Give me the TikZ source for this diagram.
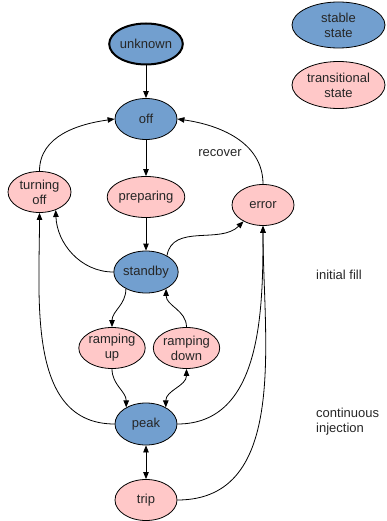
\documentclass[tikz,border=0pt]{standalone}
\usepackage{fontspec}
\setmainfont{Liberation Sans}
\usetikzlibrary{shapes.geometric,arrows.meta}
\definecolor{stblue}{HTML}{729FCF}
\definecolor{trpink}{HTML}{FFC8C8}
\tikzset{
  st/.style={ellipse,draw=black,line width=0.8pt,fill=stblue,inner sep=0pt,
    minimum width=62pt,minimum height=41pt,font=\fontsize{13}{15}\selectfont,
    text=black!85,align=center},
  tr/.style={st,fill=trpink},
  lbl/.style={font=\fontsize{13}{15}\selectfont,text=black!85,align=left,inner sep=0pt},
  edge/.style={line width=0.8pt,-{Triangle[length=7pt,width=5.5pt]}},
  both/.style={line width=0.8pt,{Triangle[length=7pt,width=5.5pt]}-{Triangle[length=7pt,width=5.5pt]}}
}
\begin{document}
\begin{tikzpicture}[x=1pt,y=-1pt]
\useasboundingbox (0,0) rectangle (386,521);
\node[st,line width=2pt] (unk) at (146,44) {unknown};
\node[st] (off) at (146,119) {off};
\node[tr] (prep) at (146,197) {preparing};
\node[tr,minimum width=63pt] (toff) at (39.5,192) {turning\\off};
\node[tr] (err) at (263,205) {error};
\node[st,minimum height=42pt] (sb) at (146,272) {standby};
\node[tr,minimum width=64pt] (ru) at (112,348) {ramping\\up};
\node[tr,minimum width=64pt] (rd) at (186.5,348) {ramping\\down};
\node[st,minimum height=42pt] (pk) at (146,424) {peak};
\node[tr] (trip) at (146,500) {trip};
\node[st,minimum width=93pt,minimum height=46pt] (lst) at (338.5,25) {stable\\state};
\node[tr,minimum width=93pt,minimum height=47pt] (ltr) at (338.5,85) {transitional\\state};
\node[lbl] (rec) at (220,153) {recover};
\node[lbl,anchor=west] (ifill) at (316,275) {initial fill};
\node[lbl,anchor=west] (cinj) at (316,422) {continuous\\injection};

\draw[edge] (unk) -- (off);
\draw[edge] (off) -- (prep);
\draw[edge] (prep) -- (sb);
\draw[edge] (toff.north) to[out=90,in=188] (off.west);
\draw[edge] (err.north) to[out=90,in=-8] (off.east);
\draw[edge] (sb.west) to[out=180,in=-88] (toff.-48);
\draw[edge] (sb.38) to[out=80,in=-135] (err.-140);
\draw[edge] (pk.west) to[out=180,in=-90] (toff.south);
\draw[edge] (pk.east) to[out=0,in=-90] (err.south);
\draw[edge] (trip.east) to[out=0,in=-90] (err.south);
\draw[edge] (sb.-140) to[out=-90,in=90] (ru.north);
\draw[edge] (rd.north) to[out=90,in=-90] (sb.-40);
\draw[edge] (ru.south) to[out=-90,in=90] (pk.140);
\draw[both] (pk.40) to[out=90,in=-90] (rd.south);
\draw[both] (pk) -- (trip);
\end{tikzpicture}
\end{document}
